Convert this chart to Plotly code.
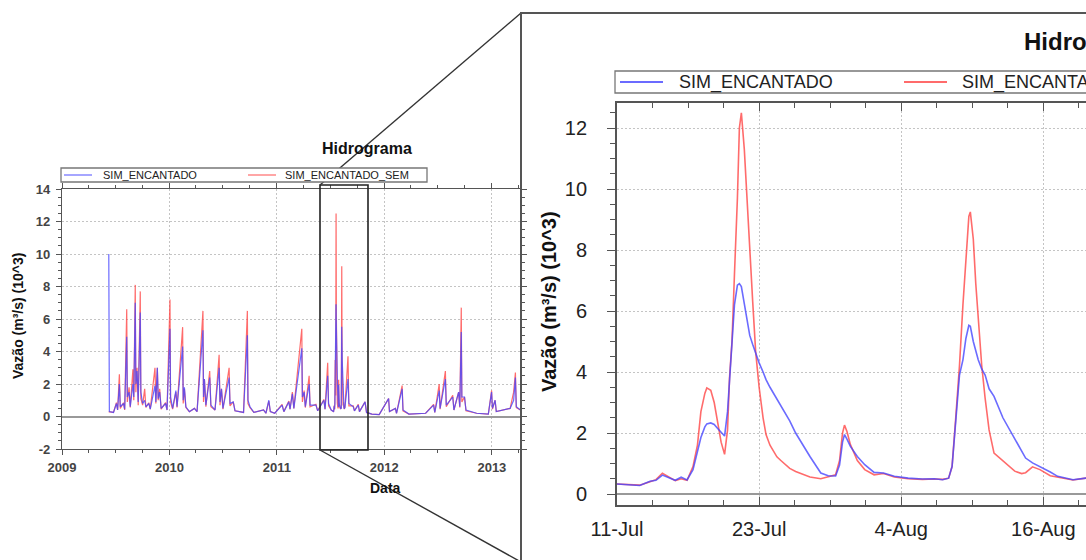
import plotly.graph_objects as go

# ---------------- data (values in 10^3 m3/s) ----------------
# long record, before the zoomed window
pre_dates = ["2009-06-09", "2009-06-10", "2009-06-11", "2009-06-25", "2009-07-05", "2009-07-09",
             "2009-07-15", "2009-07-18", "2009-07-29", "2009-08-02", "2009-08-09", "2009-08-11",
             "2009-08-17", "2009-08-21", "2009-08-30", "2009-09-02", "2009-09-07", "2009-09-09",
             "2009-09-13", "2009-09-17", "2009-09-24", "2009-09-26", "2009-10-02", "2009-10-09",
             "2009-10-13", "2009-10-23", "2009-10-28", "2009-11-13", "2009-11-16", "2009-11-21",
             "2009-11-24", "2009-11-29", "2009-12-04", "2009-12-19", "2009-12-24", "2010-01-03",
             "2010-01-05", "2010-01-12", "2010-01-23", "2010-01-27", "2010-02-15", "2010-02-17",
             "2010-02-21", "2010-02-26", "2010-03-10", "2010-03-27", "2010-04-05", "2010-04-25",
             "2010-04-27", "2010-04-30", "2010-05-05", "2010-05-18", "2010-05-22", "2010-06-05",
             "2010-06-19", "2010-06-22", "2010-06-27", "2010-07-02", "2010-07-23", "2010-07-26",
             "2010-08-06", "2010-08-12", "2010-09-10", "2010-09-23", "2010-09-25", "2010-10-02",
             "2010-10-15", "2010-11-17", "2010-11-25", "2010-12-05", "2010-12-10", "2010-12-25",
             "2011-01-19", "2011-01-25", "2011-02-11", "2011-02-15", "2011-02-23", "2011-02-28",
             "2011-03-27", "2011-03-29", "2011-04-04", "2011-04-08", "2011-04-21", "2011-04-24",
             "2011-05-14", "2011-05-20", "2011-06-10", "2011-06-14", "2011-06-23", "2011-06-26",
             "2011-07-05"]
pre_sim = [10.0, 5.5, 0.30, 0.25, 0.80, 0.40,
           2.00, 0.60, 0.80, 0.45, 4.90, 1.20,
           1.50, 0.60, 2.00, 1.20, 7.00, 2.00,
           2.80, 0.90, 6.40, 1.50, 0.80, 1.00,
           0.60, 0.80, 0.45, 1.90, 0.90, 3.00,
           1.10, 1.50, 0.50, 0.80, 0.40, 5.40,
           1.20, 0.50, 1.60, 0.60, 4.30, 1.00,
           1.80, 0.60, 0.30, 0.50, 0.30, 5.30,
           1.20, 2.30, 0.70, 2.40, 0.70, 0.40,
           3.00, 0.90, 1.70, 0.50, 2.40, 0.80,
           0.90, 0.35, 0.25, 5.00, 1.00, 0.60,
           0.25, 0.40, 0.20, 1.00, 0.30, 0.20,
           0.70, 0.30, 0.90, 0.45, 1.40, 0.50,
           4.20, 1.20, 1.50, 0.60, 2.00, 0.70,
           0.70, 0.35, 1.00, 0.45, 2.50, 0.80,
           0.40]
pre_sem = [0.30, 0.30, 0.28, 0.25, 0.85, 0.40,
           2.60, 0.50, 0.85, 0.40, 6.60, 0.90,
           1.80, 0.55, 2.90, 1.00, 8.10, 1.50,
           3.00, 0.70, 7.70, 1.10, 0.70, 1.70,
           0.55, 0.85, 0.45, 3.00, 0.80, 3.00,
           1.00, 1.70, 0.45, 0.85, 0.40, 7.20,
           0.90, 0.45, 1.50, 0.55, 5.50, 0.80,
           1.70, 0.55, 0.30, 0.50, 0.30, 6.50,
           0.90, 2.30, 0.60, 2.80, 0.60, 0.40,
           3.80, 0.70, 1.70, 0.45, 3.00, 0.65,
           0.90, 0.35, 0.25, 6.50, 0.80, 0.55,
           0.25, 0.40, 0.20, 0.95, 0.30, 0.20,
           0.75, 0.30, 0.95, 0.45, 1.50, 0.50,
           5.40, 0.90, 1.60, 0.55, 2.50, 0.60,
           0.75, 0.35, 1.05, 0.45, 3.30, 0.65,
           0.40]

# zoomed window (11-Jul to 20-Aug 2011)
zoom_times = ["2011-07-11 00:00", "2011-07-12 00:00", "2011-07-12 22:00", "2011-07-13 19:00",
              "2011-07-14 07:00", "2011-07-14 20:00", "2011-07-15 10:00", "2011-07-15 22:00",
              "2011-07-16 10:00", "2011-07-16 22:00", "2011-07-17 10:00", "2011-07-17 19:00",
              "2011-07-18 02:00", "2011-07-18 10:00", "2011-07-18 14:00", "2011-07-18 22:00",
              "2011-07-19 05:00", "2011-07-19 12:00", "2011-07-19 19:00", "2011-07-20 02:00",
              "2011-07-20 08:00", "2011-07-20 12:00", "2011-07-20 17:00", "2011-07-20 22:00",
              "2011-07-21 04:00", "2011-07-21 08:00", "2011-07-21 12:00", "2011-07-21 18:00",
              "2011-07-22 00:00", "2011-07-22 05:00", "2011-07-22 11:00", "2011-07-22 17:00",
              "2011-07-23 00:00", "2011-07-23 08:00", "2011-07-23 14:00", "2011-07-23 22:00",
              "2011-07-24 12:00", "2011-07-24 20:00", "2011-07-25 14:00", "2011-07-26 02:00",
              "2011-07-26 17:00", "2011-07-27 00:00", "2011-07-27 07:00", "2011-07-28 05:00",
              "2011-07-28 20:00", "2011-07-29 11:00", "2011-07-29 19:00", "2011-07-30 01:00",
              "2011-07-30 05:00", "2011-07-30 10:00", "2011-07-30 17:00", "2011-07-31 07:00",
              "2011-07-31 22:00", "2011-08-01 17:00", "2011-08-02 12:00", "2011-08-03 10:00",
              "2011-08-04 14:00", "2011-08-05 19:00", "2011-08-06 19:00", "2011-08-07 12:00",
              "2011-08-08 00:00", "2011-08-08 07:00", "2011-08-08 14:00", "2011-08-08 22:00",
              "2011-08-09 05:00", "2011-08-09 11:00", "2011-08-09 17:00", "2011-08-09 20:00",
              "2011-08-10 02:00", "2011-08-10 07:00", "2011-08-10 12:00", "2011-08-10 19:00",
              "2011-08-11 02:00", "2011-08-11 10:00", "2011-08-11 20:00", "2011-08-12 14:00",
              "2011-08-13 14:00", "2011-08-14 04:00", "2011-08-14 12:00", "2011-08-15 02:00",
              "2011-08-15 17:00", "2011-08-16 14:00", "2011-08-17 05:00", "2011-08-18 12:00",
              "2011-08-19 14:00", "2011-08-20 12:00"]
zoom_sim = [0.33, 0.30, 0.28, 0.42,
            0.45, 0.62, 0.52, 0.45,
            0.55, 0.46, 0.80, 1.45,
            1.85, 2.20, 2.30, 2.33,
            2.28, 2.15, 2.02, 1.90,
            2.70, 3.80, 5.10, 6.20,
            6.85, 6.90, 6.80, 6.20,
            5.60, 5.20, 4.90, 4.62,
            4.30, 4.00, 3.75, 3.50,
            3.10, 2.87, 2.40, 2.00,
            1.60, 1.44, 1.23, 0.69,
            0.60, 0.59, 0.95, 1.70,
            1.95, 1.80, 1.56, 1.23,
            0.96, 0.71, 0.69, 0.58,
            0.52, 0.49, 0.50, 0.47,
            0.52, 0.90, 2.40, 3.90,
            4.40, 5.10, 5.53, 5.50,
            5.00, 4.66, 4.40, 4.10,
            3.90, 3.45, 3.20, 2.50,
            1.80, 1.40, 1.18, 1.02,
            0.90, 0.72, 0.58, 0.47,
            0.52, 0.55]
zoom_sem = [0.33, 0.30, 0.29, 0.40,
            0.47, 0.68, 0.55, 0.44,
            0.50, 0.45, 0.90, 1.60,
            2.70, 3.30, 3.48, 3.40,
            3.00, 2.40, 1.70, 1.30,
            2.10, 3.80, 5.00, 7.20,
            9.70, 12.0, 12.50, 11.3,
            9.40, 8.00, 6.30, 4.66,
            3.50, 2.50, 1.95, 1.60,
            1.22, 1.10, 0.84, 0.74,
            0.64, 0.60, 0.56, 0.50,
            0.56, 0.63, 1.10, 2.00,
            2.26, 2.05, 1.62, 1.10,
            0.80, 0.63, 0.67, 0.56,
            0.50, 0.48, 0.49, 0.48,
            0.52, 0.90, 2.40, 4.20,
            6.20, 7.70, 9.10, 9.25,
            8.36, 6.90, 5.86, 4.23,
            3.14, 2.10, 1.34, 1.10,
            0.75, 0.67, 0.70, 0.89,
            0.80, 0.60, 0.55, 0.46,
            0.52, 0.55]

# long record, after the zoomed window
post_dates = ["2011-08-31", "2011-09-03", "2011-09-18", "2011-09-22", "2011-10-05", "2011-10-09",
              "2011-10-28", "2011-11-02", "2011-11-20", "2011-12-15", "2012-01-16", "2012-01-19",
              "2012-02-08", "2012-02-12", "2012-03-02", "2012-03-05", "2012-03-25", "2012-05-21",
              "2012-06-17", "2012-06-21", "2012-07-06", "2012-07-09", "2012-07-27", "2012-07-30",
              "2012-08-21", "2012-08-25", "2012-09-10", "2012-09-14", "2012-09-19", "2012-09-21",
              "2012-09-30", "2012-10-05", "2012-11-10", "2012-12-20", "2012-12-31", "2013-01-03",
              "2013-01-12", "2013-01-16", "2013-03-04", "2013-03-16", "2013-03-22", "2013-03-25",
              "2013-04-08", "2013-04-20"]
post_sim = [2.30, 0.80, 0.60, 0.35, 0.70, 0.30,
            0.90, 0.25, 0.15, 0.12, 1.10, 0.30,
            0.50, 0.20, 1.70, 0.40, 0.15, 0.20,
            0.70, 0.25, 1.60, 0.50, 2.30, 0.70,
            1.20, 0.40, 1.50, 0.60, 5.20, 1.20,
            1.20, 0.40, 0.20, 0.15, 1.50, 0.50,
            1.00, 0.30, 0.50, 1.00, 2.40, 0.60,
            0.40, 0.35]
post_sem = [3.70, 0.65, 0.65, 0.35, 0.75, 0.30,
            0.90, 0.25, 0.15, 0.12, 1.10, 0.30,
            0.50, 0.20, 1.90, 0.35, 0.15, 0.20,
            0.75, 0.25, 2.00, 0.45, 2.80, 0.60,
            1.30, 0.40, 1.50, 0.55, 6.70, 0.90,
            1.20, 0.35, 0.20, 0.15, 1.60, 0.45,
            1.00, 0.30, 0.50, 1.50, 2.70, 0.55,
            0.40, 0.35]

small_y_ticks = [-2, 0, 2, 4, 6, 8, 10, 12, 14]
small_y_ticktext = ["-2", "0", "2", "4", "6", "8", "10", "12", "14"]

series_names = ["SIM_ENCANTADO", "SIM_ENCANTADO_SEM"]
title_text = "Hidrograma"
y_title = "Vazão (m³/s) (10^3)"
x_title = "Data"

long_dates = pre_dates + zoom_times + post_dates
long_sim = pre_sim + zoom_sim + post_sim
long_sem = pre_sem + zoom_sem + post_sem

# ---------------- layout helpers (pixel -> paper) ----------------
W, H = 1086, 560
def px(x):
    return x / W
def py(y):
    return 1 - y / H

BLUE = "rgba(70,70,255,0.8)"
RED = "rgba(255,70,70,0.8)"
FONT = "Arial, Liberation Sans, sans-serif"

fig = go.Figure()

# small overview chart (red under, blue on top)
fig.add_trace(go.Scatter(x=long_dates, y=long_sem, mode="lines", name=series_names[1],
                         line=dict(color=RED, width=1.2), xaxis="x", yaxis="y", showlegend=False))
fig.add_trace(go.Scatter(x=long_dates, y=long_sim, mode="lines", name=series_names[0],
                         line=dict(color=BLUE, width=1.2), xaxis="x", yaxis="y", showlegend=False))
# zoomed chart
fig.add_trace(go.Scatter(x=zoom_times, y=zoom_sem, mode="lines", name=series_names[1],
                         line=dict(color=RED, width=1.6), xaxis="x2", yaxis="y2", showlegend=False))
fig.add_trace(go.Scatter(x=zoom_times, y=zoom_sim, mode="lines", name=series_names[0],
                         line=dict(color=BLUE, width=1.6), xaxis="x2", yaxis="y2", showlegend=False))

DAY = 86400000
axis_common = dict(showline=True, linecolor="#555", gridcolor="#c4c4c4", griddash="2px,2px",
                   showgrid=True, tickcolor="#555", automargin=False)
small_tickfont = dict(size=13, color="#444", weight="bold")

fig.update_layout(
    width=W, height=H, margin=dict(l=0, r=0, t=0, b=0, autoexpand=False),
    paper_bgcolor="white", plot_bgcolor="white",
    font=dict(family=FONT, color="#222"),
    xaxis=dict(domain=[px(62), px(521)], anchor="y", type="date",
               range=["2009-01-01", "2013-04-10"], tick0="2009-01-01", dtick="M12",
               tickformat="%Y", mirror="ticks", ticks="outside", ticklen=5,
               ticklabelstandoff=1, tickfont=small_tickfont,
               minor=dict(dtick="M3", ticks="outside", ticklen=3, tickcolor="#555"),
               linewidth=1.2, **axis_common),
    yaxis=dict(domain=[py(449), py(189)], anchor="x", range=[-2, 14],
               tickmode="array", tickvals=small_y_ticks, ticktext=small_y_ticktext,
               mirror="ticks", ticks="outside", ticklen=5, ticklabelstandoff=3,
               tickfont=small_tickfont,
               minor=dict(dtick=0.5, tick0=0, ticks="outside", ticklen=3, tickcolor="#555"),
               zeroline=True, zerolinecolor="#999", zerolinewidth=1.5,
               linewidth=1.2, **axis_common),
    xaxis2=dict(domain=[px(617), 1.0], anchor="y2", type="date",
                range=["2011-07-11", "2011-08-19 14:24"], tick0="2011-07-11",
                dtick=12 * DAY, tickformat="%-d-%b", mirror="ticks", ticks="inside",
                ticklen=8, ticklabelstandoff=5, tickfont=dict(size=20, color="#222"),
                minor=dict(dtick=3 * DAY, ticks="inside", ticklen=5, tickcolor="#555"),
                linewidth=1.8, **axis_common),
    yaxis2=dict(domain=[py(505), py(103)], anchor="x2", range=[-0.36, 12.82], dtick=2,
                ticks="outside", ticklen=8, ticklabelstandoff=16,
                tickfont=dict(size=20, color="#222"),
                minor=dict(dtick=0.5, ticks="outside", ticklen=5, tickcolor="#555"),
                zeroline=True, zerolinecolor="#999", zerolinewidth=1.5,
                linewidth=1.8, **axis_common),
    showlegend=False,
)

# zoom rectangle, connector lines and frame of the enlarged view
fig.add_shape(type="rect", xref="paper", yref="paper", x0=px(320), x1=px(368),
              y0=py(450), y1=py(185), line=dict(color="#222", width=1.6))
fig.add_shape(type="line", xref="paper", yref="paper", x0=px(320), y0=py(185),
              x1=px(521), y1=py(13), line=dict(color="#333", width=1.4))
fig.add_shape(type="line", xref="paper", yref="paper", x0=px(320), y0=py(450),
              x1=px(521), y1=py(562), line=dict(color="#333", width=1.4))
fig.add_shape(type="rect", xref="paper", yref="paper", x0=px(521), x1=px(1100),
              y0=py(575), y1=py(13), line=dict(color="#555", width=2))

# legends (box, line samples, labels) for both panels
legend_specs = [
    dict(box=(61, 427, 168, 182), samples=(64, 248), slen=28, texts=(101, 283), size=11, lw=1.2),
    dict(box=(615, 1100, 71, 93), samples=(620, 904), slen=43, texts=(677, 960), size=18, lw=1.8),
]
series_colors = [BLUE, RED]
for spec in legend_specs:
    bx0, bx1, by0, by1 = spec["box"]
    fig.add_shape(type="rect", xref="paper", yref="paper", x0=px(bx0), x1=px(bx1),
                  y0=py(by1), y1=py(by0), line=dict(color="#777", width=1.3),
                  fillcolor="white", layer="above")
    ymid = (by0 + by1) / 2
    for name, col, sx, tx in zip(series_names, series_colors, spec["samples"], spec["texts"]):
        fig.add_shape(type="line", xref="paper", yref="paper", x0=px(sx), x1=px(sx + spec["slen"]),
                      y0=py(ymid), y1=py(ymid), line=dict(color=col, width=spec["lw"]))
        fig.add_annotation(xref="paper", yref="paper", x=px(tx), y=py(ymid), text=name,
                           showarrow=False, xanchor="left", yanchor="middle",
                           font=dict(size=spec["size"], color="#222"))

# titles
ann = [
    dict(text="<b>" + title_text + "</b>", x=px(367), y=py(149), font=dict(size=16, color="#111"),
         xanchor="center", yanchor="middle"),
    dict(text="<b>" + x_title + "</b>", x=px(385), y=py(488), font=dict(size=14, color="#111"),
         xanchor="center", yanchor="middle"),
    dict(text="<b>" + y_title + "</b>", x=px(18), y=py(316), font=dict(size=14, color="#111"),
         textangle=-90, xanchor="center", yanchor="middle"),
    dict(text="<b>" + title_text + "</b>", x=px(1022), y=py(42), font=dict(size=24, color="#111"),
         xanchor="left", yanchor="middle"),
    dict(text="<b>" + y_title + "</b>", x=px(549), y=py(302), font=dict(size=20, color="#111"),
         textangle=-90, xanchor="center", yanchor="middle"),
]
for a in ann:
    fig.add_annotation(xref="paper", yref="paper", showarrow=False, **a)

fig.write_html("out.html", config={"displayModeBar": False},
               post_script="document.body.style.margin='0px';"
                           "document.documentElement.style.overflow='hidden';")
